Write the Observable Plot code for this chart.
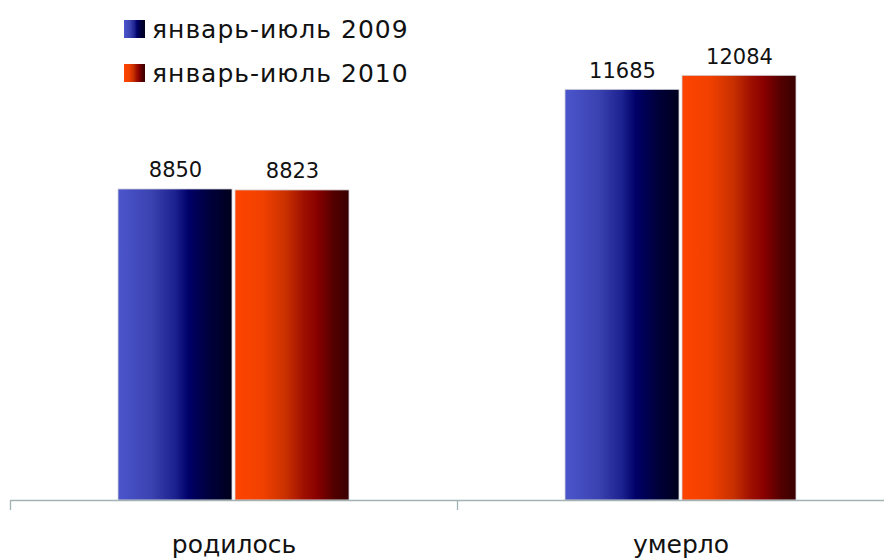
<!DOCTYPE html>
<html><head><meta charset="utf-8">
<script src="https://cdn.jsdelivr.net/npm/d3@7"></script>
<script src="https://cdn.jsdelivr.net/npm/@observablehq/plot@0.6"></script>
<style>
body{margin:0;background:#fff;}
#wrap{position:relative;width:884px;height:559px;overflow:hidden;font-family:"DejaVu Sans",Verdana,sans-serif;}
#wrap svg{display:block;}
#legend{position:absolute;left:0;top:0;}
</style></head>
<body><div id="wrap"></div>
<script>
// ---- data ----
const categories = ["родилось", "умерло"];
const seriesNames = ["январь-июль 2009", "январь-июль 2010"];
const values2009 = [8850, 11685];
const values2010 = [8823, 12084];
const seriesIds = ["gBlue", "gRed"];
const gradientStops = [
  [[0, "#4c56cc"], [0.3, "#3a42b0"], [0.5, "#1c2290"], [0.62, "#000068"], [0.8, "#00003c"], [1, "#00001c"]],
  [[0, "#ff4400"], [0.25, "#f04000"], [0.45, "#c83000"], [0.6, "#a01000"], [0.72, "#880000"], [0.87, "#520000"], [1, "#380000"]]
];

const data = categories.flatMap((c, i) => [
  {category: c, series: seriesNames[0], value: values2009[i]},
  {category: c, series: seriesNames[1], value: values2010[i]}
]);

const axisColor = "#a3b3b3";

const plot = Plot.plot({
  width: 884,
  height: 559,
  marginLeft: 10,
  marginRight: -20,
  marginTop: 8,
  marginBottom: 59,
  style: {fontFamily: "'DejaVu Sans', Verdana, sans-serif", background: "transparent", overflow: "visible"},
  fx: {domain: categories, padding: 0, label: null},
  x: {domain: seriesNames, paddingInner: 0.0255, paddingOuter: 0.915, axis: null},
  y: {domain: [0, 14000], axis: null},
  marks: [
    ...seriesNames.map((s, k) =>
      Plot.barY(data.filter(d => d.series === s), {
        fx: "category", x: "series", y: "value",
        fill: `url(#${seriesIds[k]})`, stroke: "#d4d4dc", strokeWidth: 0.8
      })
    ),
    Plot.text(data, {
      fx: "category", x: "series", y: "value", text: d => String(d.value),
      lineAnchor: "bottom", dy: -12, fontSize: 21, fill: "#111"
    }),
    Plot.ruleY([0], {stroke: axisColor, strokeWidth: 1.3}),
    Plot.axisFx({anchor: "bottom", tickSize: 10, tickFormat: () => "", dx: -223.5, stroke: axisColor, strokeWidth: 1.3, label: null}),
    Plot.axisFx({anchor: "bottom", tickSize: 0, tickPadding: 35, fontSize: 25, fill: "#111", label: null})
  ]
});

// gradients
const svgSel = d3.select(plot);
const defs = svgSel.insert("defs", ":first-child");
seriesIds.forEach((id, k) => {
  const g = defs.append("linearGradient").attr("id", id)
    .attr("x1", "0%").attr("x2", "100%").attr("y1", "0%").attr("y2", "0%");
  gradientStops[k].forEach(([o, c]) => g.append("stop").attr("offset", o).attr("stop-color", c));
});

const wrap = document.getElementById("wrap");
wrap.appendChild(plot);

// legend overlay
const leg = d3.select(wrap).append("svg").attr("id", "legend")
  .attr("width", 884).attr("height", 100);
const ldefs = leg.append("defs");
seriesIds.forEach((id, k) => {
  const g = ldefs.append("linearGradient").attr("id", id + "L")
    .attr("x1", "0%").attr("x2", "100%").attr("y1", "0%").attr("y2", "0%");
  gradientStops[k].forEach(([o, c]) => g.append("stop").attr("offset", o).attr("stop-color", c));
});
seriesNames.forEach((s, k) => {
  const y0 = 20 + k * 44;
  leg.append("rect").attr("x", 124).attr("y", y0).attr("width", 21).attr("height", 18)
    .attr("fill", `url(#${seriesIds[k]}L)`);
  leg.append("text").attr("x", 152).attr("y", y0 + 18)
    .attr("font-family", "'DejaVu Sans', Verdana, sans-serif")
    .attr("font-size", 25).attr("letter-spacing", 1).attr("fill", "#111").text(s);
});
</script>
</body></html>
